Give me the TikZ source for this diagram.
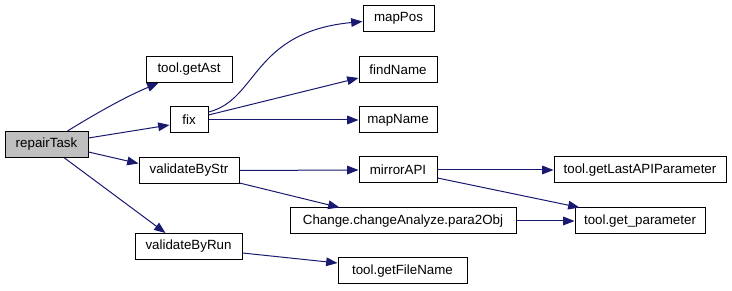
\documentclass[tikz,border=0pt]{standalone}
\usepackage{fontspec}
\setmainfont{Liberation Sans}
\usetikzlibrary{arrows.meta,calc}
\definecolor{edgeblue}{HTML}{191970}
\definecolor{rootgray}{HTML}{BFBFBF}
\begin{document}
\begin{tikzpicture}[x=0.75pt,y=-0.75pt,
  fn/.style={draw=black, line width=0.75pt, fill=white, minimum height=19.5pt,
    inner xsep=0pt, inner ysep=0pt, font=\fontsize{10}{12}\selectfont},
  call/.style={draw=edgeblue, line width=0.75pt,
    -{Triangle[length=8.5pt,width=6.5pt]}, edgeblue}]
\useasboundingbox (0,0) rectangle (732,291);

% functions
\node[fn, fill=rootgray, minimum width=62.25pt] (repairTask) at (46.5,144.5) {repairTask};
\node[fn, minimum width=64.5pt] (getAst) at (189,69.5) {tool.getAst};
\node[fn, minimum width=28.5pt] (fix) at (189,120) {fix};
\node[fn, minimum width=75pt] (byStr) at (189,170.5) {validateByStr};
\node[fn, minimum width=80.25pt] (byRun) at (188.5,246.5) {validateByRun};
\node[fn, minimum width=53.25pt] (mapPos) at (398.5,18.5) {mapPos};
\node[fn, minimum width=58.5pt] (findName) at (398,70) {findName};
\node[fn, minimum width=58.5pt] (mapName) at (398,120) {mapName};
\node[fn, minimum width=58.5pt] (mirror) at (398,170) {mirrorAPI};
\node[fn, minimum width=169.5pt] (para) at (403,221) {Change.changeAnalyze.para2Obj};
\node[fn, minimum width=96.75pt] (fileName) at (402.5,271) {tool.getFileName};
\node[fn, minimum width=129pt] (lastParam) at (640,170) {tool.getLastAPIParameter};
\node[fn, minimum width=97.5pt] (getParam) at (640,221) {tool.get\_parameter};

% calls
\draw[call] ($(repairTask.north)+(21,0)$) .. controls (95,114) and (125,97) .. ($(getAst.south west)+(13,0)$);
\draw[call] ($(repairTask.east)+(0,-6.5)$) -- ($(fix.west)+(0,5)$);
\draw[call] ($(repairTask.east)+(0,7.5)$) -- ($(byStr.west)+(0,-7)$);
\draw[call] ($(repairTask.south)+(18,0)$) -- ($(byRun.north west)+(31,0)$);
\draw[call] ($(fix.east)+(0,-8)$) .. controls (258,100) and (252,32) .. ($(mapPos.west)+(0,3)$);
\draw[call] ($(fix.east)+(0,-5)$) -- ($(findName.west)+(0,8)$);
\draw[call] (fix.east) -- (mapName.west);
\draw[call] (byStr.east) -- (mirror.west);
\draw[call] ($(byStr.south east)+(0,-1)$) -- ($(para.north west)+(50,0)$);
\draw[call] (mirror.east) -- (lastParam.west);
\draw[call] ($(mirror.east)+(0,8)$) -- ($(getParam.north west)+(5,0)$);
\draw[call] (para.east) -- (getParam.west);
\draw[call] ($(byRun.east)+(0,6.5)$) -- ($(fileName.west)+(0,-8)$);
\end{tikzpicture}
\end{document}
